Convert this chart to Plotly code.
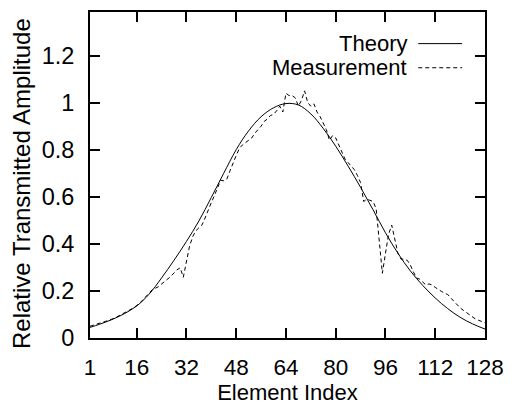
import plotly.graph_objects as go

# Theory curve (every 4 elements)
theory_x = [1, 4, 8, 12, 16, 20, 24, 28, 32, 36, 40, 44, 48, 52, 56, 60, 64,
            68, 72, 76, 80, 84, 88, 92, 96, 100, 104, 108, 112, 116, 120, 124, 128]
theory_y = [0.045, 0.058, 0.078, 0.103, 0.136, 0.186, 0.255, 0.33, 0.41, 0.497, 0.597,
            0.70, 0.80, 0.88, 0.94, 0.978, 0.996, 0.99, 0.952, 0.89, 0.815, 0.73,
            0.64, 0.545, 0.447, 0.36, 0.285, 0.223, 0.17, 0.125, 0.088, 0.06, 0.038]

meas_x = [1, 3, 5, 7, 9, 11, 13, 15, 17, 19, 21, 23, 25, 27, 29, 30, 31, 32, 33, 34,
          35, 36, 37, 38, 39, 40, 41, 42, 43, 44, 45, 46, 47, 48, 49, 50, 51, 52, 53,
          54, 55, 56, 57, 58, 59, 60, 61, 62, 63, 64, 65, 66, 67, 68, 69, 70, 71, 72,
          73, 74, 75, 76, 77, 78, 79, 80, 81, 82, 83, 84, 85, 86, 87, 88, 89, 90, 91,
          92, 93, 94, 95, 96, 97, 98, 99, 100, 101, 102, 103, 104, 105, 106, 107, 108,
          109, 110, 111, 112, 113, 114, 115, 116, 117, 118, 119, 120, 121, 122, 123,
          124, 125, 126, 127, 128]
meas_y = [0.05, 0.058, 0.065, 0.075, 0.085, 0.1, 0.113, 0.128, 0.148, 0.178, 0.205,
          0.218, 0.24, 0.262, 0.29, 0.298, 0.258, 0.33, 0.39, 0.43, 0.455, 0.468,
          0.48, 0.51, 0.545, 0.575, 0.605, 0.64, 0.67, 0.668, 0.675, 0.71, 0.745,
          0.775, 0.805, 0.82, 0.83, 0.84, 0.85, 0.87, 0.885, 0.9, 0.92, 0.93, 0.945,
          0.95, 0.965, 0.985, 0.96, 1.04, 1.03, 1.03, 1.02, 0.985, 1.01, 1.05, 1.0,
          0.985, 0.995, 0.96, 0.94, 0.91, 0.885, 0.84, 0.86, 0.85, 0.82, 0.79, 0.76,
          0.745, 0.73, 0.715, 0.69, 0.66, 0.58, 0.59, 0.585, 0.58, 0.55, 0.42, 0.275,
          0.36, 0.44, 0.48, 0.42, 0.36, 0.335, 0.335, 0.33, 0.31, 0.28, 0.255, 0.25,
          0.238, 0.225, 0.23, 0.225, 0.215, 0.205, 0.198, 0.19, 0.185, 0.17, 0.155,
          0.14, 0.128, 0.118, 0.108, 0.097, 0.087, 0.08, 0.075, 0.07, 0.065]

x_ticks = [1, 16, 32, 48, 64, 80, 96, 112, 128]
y_ticks = [0, 0.2, 0.4, 0.6, 0.8, 1.0, 1.2]
y_tick_text = ["0", "0.2", "0.4", "0.6", "0.8", "1", "1.2"]
legend_names = ["Theory", "Measurement"]
x_title = "Element Index"
y_title = "Relative Transmitted Amplitude"

FONT = "Liberation Sans, Arial, Helvetica, sans-serif"
DASH = "4px,3px"

fig = go.Figure()
fig.add_trace(go.Scatter(x=theory_x, y=theory_y, mode="lines", name=legend_names[0],
                         line=dict(color="black", width=1, shape="spline", smoothing=1.0)))
fig.add_trace(go.Scatter(x=meas_x, y=meas_y, mode="lines", name=legend_names[1],
                         line=dict(color="black", width=1, dash=DASH)))

axis_common = dict(showline=True, linecolor="black", linewidth=2, mirror="ticks",
                   ticks="inside", ticklen=10, tickwidth=1.5, tickcolor="black",
                   showgrid=False, zeroline=False)

fig.update_xaxes(range=[1, 128], tickvals=x_ticks, ticktext=[str(v) for v in x_ticks],
                 tickfont=dict(family=FONT, size=22.5, color="black"),
                 title=dict(text=x_title, font=dict(family=FONT, size=22, color="black"),
                            standoff=0),
                 ticklabelstandoff=8, **axis_common)
fig.update_yaxes(range=[0, 1.385], tickvals=y_ticks, ticktext=y_tick_text,
                 tickfont=dict(family=FONT, size=23.5, color="black"),
                 ticklabelstandoff=9, **axis_common)

# Y axis title as annotation for exact placement
fig.add_annotation(x=-0.175, y=0.475, xref="paper", yref="paper", text=y_title,
                   textangle=-90, showarrow=False, xanchor="center", yanchor="middle",
                   font=dict(family=FONT, size=24, color="black"))

# Legend (text right, sample line to the right of it)
legend_rows = [(0.903, "solid"), (0.829, DASH)]
for (yy, dash), name in zip(legend_rows, legend_names):
    fig.add_annotation(x=0.807, y=yy, xref="paper", yref="paper", text=name,
                       showarrow=False, xanchor="right", yanchor="middle",
                       font=dict(family=FONT, size=22, color="black"))
    fig.add_shape(type="line", xref="paper", yref="paper", x0=0.831, x1=0.942,
                  y0=yy, y1=yy, line=dict(color="black", width=1, dash=dash))

fig.update_layout(width=514, height=405, showlegend=False,
                  margin=dict(l=90, r=19, t=10, b=58),
                  plot_bgcolor="white", paper_bgcolor="white",
                  font=dict(family=FONT, size=22, color="black"))

fig.write_html("out.html", post_script="document.body.style.margin='0';")
